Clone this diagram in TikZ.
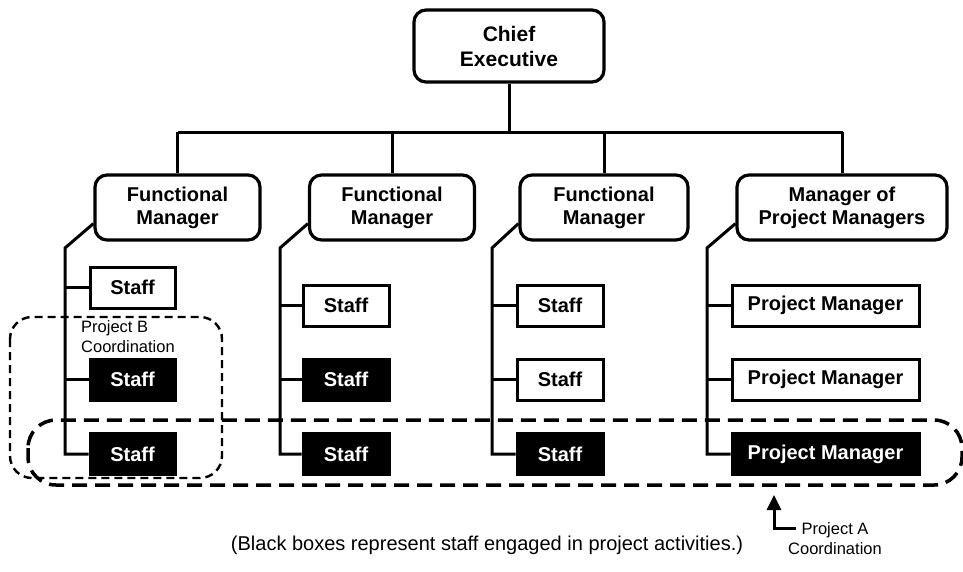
\documentclass[tikz,border=0pt]{standalone}
\usepackage{fontspec}
\setmainfont{Liberation Sans}
\usetikzlibrary{arrows.meta,calc}
\begin{document}
\begin{tikzpicture}[x=1pt,y=-1pt,
  mgr/.style={draw, line width=3.2pt, rounded corners=12pt, align=center, fill=white,
    font=\bfseries\fontsize{20}{23}\selectfont, inner sep=0pt},
  wbox/.style={draw, line width=3pt, fill=white, font=\bfseries\fontsize{20}{23}\selectfont,
    inner sep=0pt, minimum height=41pt},
  bbox/.style={wbox, fill=black, text=white},
  conn/.style={line width=3pt},
  dashA/.style={line width=3.5pt, dash pattern=on 15pt off 8pt, rounded corners=28pt},
  dashB/.style={line width=2.4pt, dash pattern=on 8pt off 5pt, rounded corners=22pt},
  note/.style={font=\fontsize{16.5}{20}\selectfont},
  arr/.style={line width=3pt, -{Triangle[length=15pt,width=14pt]}}
]
\useasboundingbox (0,0) rectangle (963,571);

% managers
\node[mgr, minimum width=190pt, minimum height=72pt, font=\bfseries\fontsize{21}{25}\selectfont] (ce) at (509,46) {Chief\\Executive};
\node[mgr, minimum width=165pt, minimum height=65pt] (fm1) at (177.5,207.5) {Functional\\Manager};
\node[mgr, minimum width=165pt, minimum height=65pt] (fm2) at (392,207.5) {Functional\\Manager};
\node[mgr, minimum width=168pt, minimum height=65pt] (fm3) at (604,207.5) {Functional\\Manager};
\node[mgr, minimum width=210pt, minimum height=65pt] (fm4) at (842,207.5) {Manager of\\Project Managers};

% bus
\coordinate (busL) at (178,132);
\coordinate (busR) at (843,132);
\draw[conn] (busL) -- (busR);
\draw[conn] (ce.south) -- (ce.south |- busL);
\draw[conn] (fm1.north) -- (fm1.north |- busL);
\draw[conn] (fm2.north) -- (fm2.north |- busL);
\draw[conn] (fm3.north) -- (fm3.north |- busL);
\draw[conn] (fm4.north) -- (fm4.north |- busL);

% staff boxes
\node[wbox, minimum width=85pt] (s11) at (132.5,287.5) {Staff};
\node[bbox, minimum width=85pt] (s12) at (132.5,379.5) {Staff};
\node[bbox, minimum width=85pt] (s13) at (132.5,454) {Staff};

\node[wbox, minimum width=86pt] (s21) at (346,305.5) {Staff};
\node[bbox, minimum width=86pt] (s22) at (346,379.5) {Staff};
\node[bbox, minimum width=86pt] (s23) at (346,454) {Staff};

\node[wbox, minimum width=86pt] (s31) at (560,305.5) {Staff};
\node[wbox, minimum width=86pt] (s32) at (560,379.5) {Staff};
\node[bbox, minimum width=86pt] (s33) at (560,454) {Staff};

\node[wbox, minimum width=187pt] (s41) at (825.5,305.5) {Project Manager};
\node[wbox, minimum width=187pt] (s42) at (825.5,379.5) {Project Manager};
\node[bbox, minimum width=187pt] (s43) at (825.5,454) {Project Manager};

% column connectors
\coordinate (v1) at (65,248);
\coordinate (v2) at (280,248);
\coordinate (v3) at (492,248);
\coordinate (v4) at (707,248);
\draw[conn, line join=miter] ($(fm1.south west)+(0,-18)$) -- (v1) |- (s13.west);
\draw[conn, line join=miter] ($(fm2.south west)+(0,-18)$) -- (v2) |- (s23.west);
\draw[conn, line join=miter] ($(fm3.south west)+(0,-18)$) -- (v3) |- (s33.west);
\draw[conn, line join=miter] ($(fm4.south west)+(0,-18)$) -- (v4) |- (s43.west);
\draw[conn] (v1 |- s11.west) -- (s11.west);
\draw[conn] (v1 |- s12.west) -- (s12.west);
\draw[conn] (v2 |- s21.west) -- (s21.west);
\draw[conn] (v2 |- s22.west) -- (s22.west);
\draw[conn] (v3 |- s31.west) -- (s31.west);
\draw[conn] (v3 |- s32.west) -- (s32.west);
\draw[conn] (v4 |- s41.west) -- (s41.west);
\draw[conn] (v4 |- s42.west) -- (s42.west);

% coordination groups
\draw[dashB] (10,317) rectangle (222,478);
\node[note, anchor=west, align=left, inner sep=0pt] (pb) at (81,337) {Project B\\Coordination};
\draw[dashA] (28,420) rectangle (962,485);

% Project A pointer
\node[note, align=center, inner sep=0pt] (pa) at (835,539) {Project A\\Coordination};
\coordinate (tip) at (774,495);
\coordinate (bend) at (796,528);
\draw[arr] (bend) -| (tip);

% caption
\node[font=\fontsize{20}{24}\selectfont, inner sep=0pt] (cap) at (487,545) {(Black boxes represent staff engaged in project activities.)};
\end{tikzpicture}
\end{document}
